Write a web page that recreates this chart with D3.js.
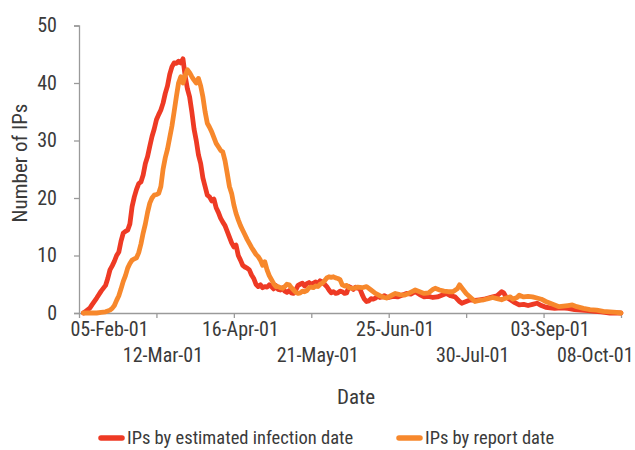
<!DOCTYPE html>
<html><head><meta charset="utf-8">
<script src="https://cdn.jsdelivr.net/npm/d3@7"></script>
<style>
body{margin:0;background:#fff}
text{font-family:"Liberation Sans Narrow","Roboto Condensed","Arial Narrow",sans-serif;fill:#3a3a3a}
</style>
</head><body>
<svg id="c" width="635" height="450"></svg>
<script>
const startLabel = "05-Feb-01";
const endLabel = "08-Oct-01";
const xTickLabels = ["05-Feb-01","12-Mar-01","16-Apr-01","21-May-01","25-Jun-01","30-Jul-01","03-Sep-01","08-Oct-01"];
const yTickValues = [0,10,20,30,40,50];
const seriesNames = ["IPs by estimated infection date","IPs by report date"];
const seriesColors = ["#ee3a24","#f7882c"];

// days after 05-Feb-01
const infectionDays = [2,3,5,6,8,10,12,13,14,15,16,17,18,19,20,21,22,23,24,25,26,27,28,29,30,31,32,33,34,35,36,37,38,39,40,41,42,43,44,45,46,47,48,49,50,51,52,53,54,55,56,57,58,59,60,61,62,63,64,65,66,67,68,69,70,71,72,73,74,75,76,77,78,79,80,81,82,83,84,85,86,87,88,89,90,91,92,93,94,95,96,97,98,99,100,101,102,103,104,105,106,107,108,109,110,111,112,113,114,115,116,117,118,119,120,121,122,123,124,125,126,127,128,129,130,131,132,133,134,135,136,137,138,139,140,142,144,146,148,150,152,154,156,158,160,162,164,166,168,170,172,173,175,177,179,181,183,185,187,189,191,192,193,195,197,199,201,203,205,207,209,211,213,215,218,221,224,227,230,233,236,240,245];
const infectionValues = [0,0.3,0.9,1.5,2.6,3.8,4.8,6,7.5,8.2,9,10,10.6,12.5,13.9,14.2,14.4,15.5,18.5,20.2,21.5,22.5,22.8,24,26,27.2,29,30.7,32,33.6,34.5,35.3,36.5,38.2,39.5,41.5,42.8,43.5,43.4,43.8,43.5,44.2,41.2,39,37.6,35,32,30,27.5,26,23.5,22,20.5,20.2,19.5,19.8,18.3,17.5,16.5,15.8,15.2,14.2,13.2,12.2,11.5,11.8,10,9.2,8.3,8,7.8,7.5,6.6,6,5,4.6,4.9,4.4,4.6,4.5,4.9,4.6,4.2,4.8,4.1,4,4.4,3.8,3.6,3.9,3.5,3.4,4,4.8,5,5.2,4.7,5.1,5.3,5,5.2,5.4,5.1,5.6,5.4,5,4.6,4,3.5,3.7,3.4,3.5,3.8,3.7,3.4,3.5,4.6,4.4,4.1,4.5,4.3,4.2,3.2,2.4,2,2.1,2.5,2.4,2.6,2.9,2.7,2.8,3,2.8,2.7,2.9,2.8,3.1,3.4,3.3,3.7,3.2,2.8,2.9,2.7,2.8,3.1,3.4,3,2.8,2,1.7,2,2.3,2.2,2.3,2.4,2.6,2.8,3,3.7,3.5,2.8,2.3,1.8,1.4,1.5,1.3,1.5,1.7,1.3,1,0.9,0.8,0.9,0.8,0.6,0.5,0.4,0.3,0.2,0,0];

const reportDays = [2,4,6,8,10,12,14,15,16,17,18,19,20,21,22,23,24,25,26,27,28,29,30,31,32,33,34,35,36,37,38,39,40,41,42,43,44,45,46,47,48,49,50,51,52,53,54,55,56,57,58,59,60,61,62,63,64,65,66,67,68,69,70,71,72,73,74,75,76,77,78,79,80,81,82,83,84,85,86,87,88,89,90,91,92,93,94,95,96,97,98,99,100,101,102,103,104,105,106,107,108,109,110,111,112,113,114,115,116,117,118,119,120,121,122,123,124,126,128,130,132,134,136,138,139,141,143,145,147,149,151,152,154,156,158,160,161,163,165,167,169,171,172,173,175,177,179,181,183,185,187,189,191,193,195,196,198,199,201,203,205,207,209,211,213,215,217,219,221,223,225,228,231,234,237,240,243,245];
const reportValues = [0,0,0,0,0.1,0.2,0.5,0.8,1.3,2.2,3,4.2,5.5,6.5,7.8,8.6,9.2,9.4,9.6,10.5,12,13.9,15.5,17.5,19.1,20,20.5,20.6,20.8,22,25,27,28.5,30.5,32.5,35,37.6,40,41.1,40,41.3,42.3,41.8,41.1,40.5,40,40.8,39.5,37.6,35,33,32.3,31.5,30.5,29.5,28.9,28.3,28,26.5,24.3,22,20.8,18.8,17.3,16.2,15.2,14.4,13.6,12.8,12.1,11.4,10.8,10.2,9.8,9.2,8.3,8.9,7.5,6.5,5.8,5.1,4.6,4.6,4.4,4.3,4.6,5,4.9,4.4,4,3.6,3.4,3.5,3.8,3.7,3.9,4.4,4.5,4.4,4.7,4.6,5,5.2,5.6,6.1,6.3,6.2,6.3,6.1,6,5.8,4.9,4.7,4.8,4.4,4.3,4.3,4.5,4.4,4.6,4,3.4,3,2.7,2.6,3,3.4,3.2,3.1,3.4,3.8,4,3.7,3.4,3.5,4.1,4.3,4,3.8,3.7,3.7,4.2,4.9,4.4,3.4,2.7,2,2.2,2.3,2.5,2.7,2.5,2.3,2.6,2.8,2.4,2.7,3.1,2.8,2.9,2.8,2.6,2.4,2,1.7,1.4,1.1,1.2,1.3,1.4,1.1,0.8,0.6,0.5,0.3,0.2,0.1,0];

const parse = d3.timeParse("%d-%b-%y");
const fmt = d3.timeFormat("%d-%b-%y");
const t0 = parse(startLabel), t1 = parse(endLabel);
const dayDate = d => d3.timeDay.offset(t0, d);

const svg = d3.select("#c");
const x = d3.scaleTime().domain([t0, t1]).range([79, 621]);
const y = d3.scaleLinear().domain([0, 50]).range([313, 25.5]);

// Y axis
const yAxis = svg.append("g").attr("transform","translate(79,0)")
  .call(d3.axisLeft(y).tickValues(yTickValues).tickSize(5).tickPadding(17));
yAxis.select(".domain").attr("stroke","#9a9a9a").attr("stroke-width",1.3);
yAxis.selectAll(".tick line").attr("stroke","#9a9a9a").attr("stroke-width",1.3);
yAxis.selectAll("text").style("font-size","20px").attr("fill","#3a3a3a");

// X axis
const xAxis = svg.append("g").attr("transform","translate(0,313)")
  .call(d3.axisBottom(x).tickValues(xTickLabels.map(parse)).tickFormat(fmt).tickSize(5).tickSizeOuter(0));
xAxis.select(".domain").attr("stroke","#9a9a9a").attr("stroke-width",1.3);
xAxis.selectAll(".tick line").attr("stroke","#9a9a9a").attr("stroke-width",1.3);
const nT = xTickLabels.length;
xAxis.selectAll(".tick text").style("font-size","20px").attr("fill","#3a3a3a")
  .attr("y", (d,i) => i % 2 === 0 ? 9 : 35)
  .attr("dy","0.71em")
  .attr("text-anchor", (d,i) => i === 0 ? "start" : (i === nT-1 ? "end" : "middle"))
  .attr("x", (d,i) => i === 0 ? -9 : (i === nT-1 ? 12 : 6));

// Axis titles
svg.append("text").attr("transform","translate(27,163) rotate(-90)")
  .attr("text-anchor","middle").style("font-size","21px").text("Number of IPs");
svg.append("text").attr("x",356).attr("y",404)
  .attr("text-anchor","middle").style("font-size","21px").text("Date");

// Lines
const line = d3.line().x(d => x(dayDate(d[0]))).y(d => y(d[1]));
const series = [
  d3.zip(infectionDays, infectionValues),
  d3.zip(reportDays, reportValues)
];
series.forEach((s, i) => {
  svg.append("path").datum(s).attr("d", line)
    .attr("fill","none").attr("stroke", seriesColors[i])
    .attr("stroke-width", 4.8).attr("stroke-linejoin","round").attr("stroke-linecap","round");
});

// Legend
const legX = [101, 399];
seriesNames.forEach((n, i) => {
  const g = svg.append("g").attr("transform", `translate(${legX[i]},438)`);
  g.append("line").attr("x1",0).attr("x2",21).attr("y1",0).attr("y2",0)
    .attr("stroke", seriesColors[i]).attr("stroke-width",5.5).attr("stroke-linecap","round");
  g.append("text").attr("x",26).attr("y",0).attr("dy","0.35em").style("font-size","18.5px").text(n);
});
</script>
</body></html>
